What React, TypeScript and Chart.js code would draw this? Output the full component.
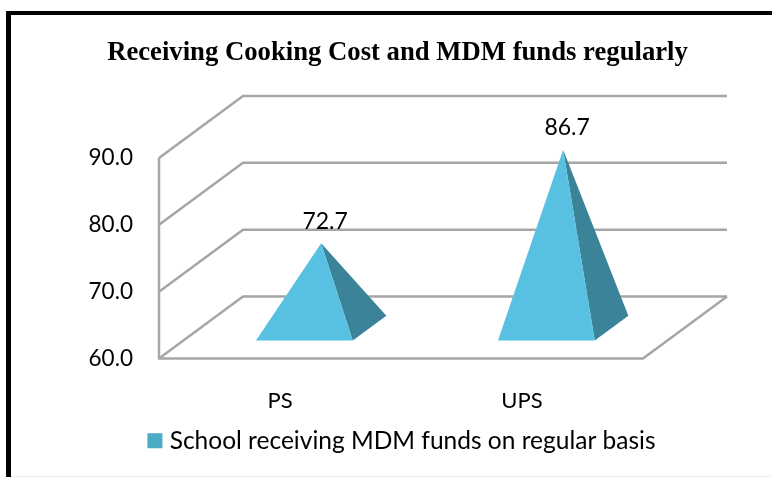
import React, { useEffect, useRef } from "react";
import { Chart, registerables } from "chart.js";

Chart.register(...registerables);

const categories = ["PS", "UPS"];
const seriesName = "School receiving MDM funds on regular basis";
const seriesValues = [72.7, 86.7];
const titleText = "Receiving Cooking Cost and MDM funds regularly";

const UI_FONT = "Lato, 'Open Sans', sans-serif";
const GRID = "#A6A6A6";
const FRONT = "#58C1E1";
const SIDE = "#3A8399";
const LEGEND = "#4BACC6";
const DX = 84; // oblique depth
const DY = -62;

const scene3d = {
  id: "scene3d",
  afterLayout(chart: any) {
    chart.titleBlock.left += 76;
    chart.titleBlock.right += 76;
    chart.legend.left += 77.5;
    chart.legend.right += 77.5;
    chart.legend.legendHitBoxes.forEach((b: any) => { b.left += 77.5; });
  },
  beforeDatasetsDraw(chart: any) {
    const { ctx, chartArea, scales } = chart;
    const y = scales.y;
    const l = chartArea.left;
    const r = chartArea.right;
    ctx.save();
    ctx.strokeStyle = GRID;
    ctx.lineWidth = 2.5;
    ctx.lineJoin = "round";
    y.ticks.forEach((t: any) => {
      const py = y.getPixelForValue(t.value);
      ctx.beginPath();
      ctx.moveTo(l, py);
      ctx.lineTo(l + DX, py + DY);
      ctx.lineTo(r + DX, py + DY);
      ctx.stroke();
    });
    const top = y.getPixelForValue(y.max);
    const bot = y.getPixelForValue(y.min);
    ctx.beginPath();
    ctx.moveTo(l, top);
    ctx.lineTo(l, bot);
    ctx.lineTo(r, bot);
    ctx.lineTo(r + DX, bot + DY);
    ctx.stroke();
    ctx.restore();
  },
  afterDatasetsDraw(chart: any) {
    const { ctx, scales } = chart;
    const y = scales.y;
    const bot = y.getPixelForValue(y.min);
    const meta = chart.getDatasetMeta(0);
    meta.data.forEach((bar: any, i: number) => {
      const value = seriesValues[i];
      const hw = bar.width / 2;
      const at = (x: number, d: number, py: number) => [x + DX * d, py + DY * d];
      const fl = at(bar.x - hw, 0.29, bot);
      const fr = at(bar.x + hw, 0.29, bot);
      const br = at(bar.x + hw, 0.69, bot);
      const apex = at(bar.x, 0.49, y.getPixelForValue(value));
      ctx.save();
      ctx.fillStyle = SIDE;
      ctx.beginPath();
      ctx.moveTo(apex[0], apex[1]);
      ctx.lineTo(fr[0], fr[1]);
      ctx.lineTo(br[0], br[1]);
      ctx.closePath();
      ctx.fill();
      ctx.fillStyle = FRONT;
      ctx.beginPath();
      ctx.moveTo(apex[0], apex[1]);
      ctx.lineTo(fl[0], fl[1]);
      ctx.lineTo(fr[0], fr[1]);
      ctx.closePath();
      ctx.fill();
      ctx.fillStyle = "#000";
      ctx.font = `23px ${UI_FONT}`;
      ctx.textAlign = "center";
      ctx.textBaseline = "middle";
      ctx.fillText(value.toFixed(1), apex[0] + 4, apex[1] - 22);
      ctx.restore();
    });
  },
  afterDraw(chart: any) {
    // legend key sits closer to its text than the library's font-derived gap
    const box = chart.legend.legendHitBoxes[0];
    const { ctx } = chart;
    ctx.save();
    ctx.fillStyle = LEGEND;
    ctx.fillRect(box.left + 5, box.top + (box.height - 15) / 2, 15, 15);
    ctx.restore();
  },
};

export default function App() {
  const ref = useRef<HTMLCanvasElement>(null);
  useEffect(() => {
    const chart = new Chart(ref.current as HTMLCanvasElement, {
      type: "bar",
      data: {
        labels: categories,
        datasets: [
          {
            label: seriesName,
            data: seriesValues,
            backgroundColor: "rgba(0,0,0,0)",
            categoryPercentage: 0.4,
            barPercentage: 1,
          },
        ],
      },
      options: {
        responsive: false,
        animation: false,
        layout: { padding: { top: 37, left: 0, right: 129, bottom: 14 } },
        plugins: {
          tooltip: { enabled: false },
          title: {
            display: true,
            text: titleText,
            color: "#000",
            font: { family: "'Liberation Serif', serif", size: 26.7, weight: "bold" },
            padding: { top: 0, bottom: 89 },
          },
          legend: {
            display: true,
            position: "bottom",
            labels: {
              boxWidth: 15,
              boxHeight: 15,
              padding: 6,
              color: "#000",
              font: { family: UI_FONT, size: 24.5 },
              generateLabels: () => [
                { text: seriesName, fillStyle: "rgba(0,0,0,0)", strokeStyle: "rgba(0,0,0,0)", lineWidth: 0, hidden: false, datasetIndex: 0 },
              ],
            },
          },
        },
        scales: {
          x: {
            grid: { display: false, drawTicks: false },
            border: { display: false },
            ticks: { color: "#000", padding: 29, font: { family: UI_FONT, size: 22 } },
            afterFit: (s: any) => { s.height = 64; },
          },
          y: {
            min: 60,
            max: 90,
            grid: { display: false, drawTicks: false },
            border: { display: false },
            ticks: {
              stepSize: 10,
              color: "#000",
              padding: 26,
              font: { family: UI_FONT, size: 22.5 },
              callback: (v: any) => Number(v).toFixed(1),
            },
            afterFit: (s: any) => { s.width = 159; },
          },
        },
      },
      plugins: [scene3d],
    } as any);
    return () => chart.destroy();
  }, []);
  const bar = (st: React.CSSProperties) => <div style={{ position: "absolute", ...st }} />;
  return (
    <div style={{ position: "fixed", left: 0, top: 0, width: 772, height: 477, background: "#fff", overflow: "hidden" }}>
      {bar({ left: 6, top: 11, width: 766, height: 3.5, background: "#000" })}
      {bar({ left: 6, top: 11, width: 5, height: 466, background: "#000" })}
      {bar({ left: 11, top: 476, width: 761, height: 1, background: "#EEEEEE" })}
      <canvas ref={ref} width={772} height={477} style={{ position: "absolute", left: 0, top: 0, width: 772, height: 477 }} />
    </div>
  );
}
